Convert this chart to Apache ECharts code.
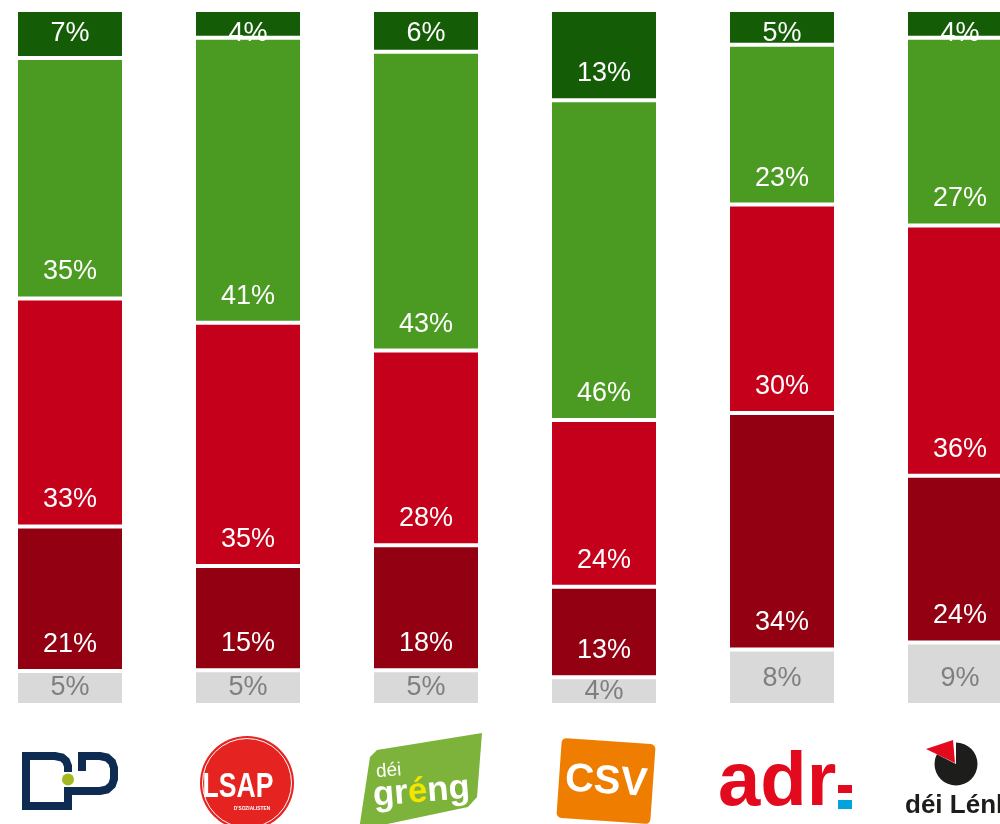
<!DOCTYPE html>
<html>
<head>
<meta charset="utf-8">
<script src="https://cdn.jsdelivr.net/npm/echarts/dist/echarts.min.js"></script>
<style>
  html, body { margin: 0; padding: 0; background: #fff; }
  #chart { width: 1000px; height: 824px; }
</style>
</head>
<body>
<div id="chart"></div>
<script>
// parteien
const parties = ['DP', 'LSAP', 'déi gréng', 'CSV', 'ADR', 'déi Lénk'];

// anteile in %, von unten nach oben gestapelt
const noAnswer = [4.9, 5, 5, 4, 8, 9];
const veryBad = [20.8, 15, 18, 13, 34, 24];
const bad = [32.8, 35, 28, 24, 30, 36];
const good = [34.6, 41, 43, 46, 23, 27];
const veryGood = [6.9, 4, 6, 13, 5, 4];

const FONT = "'Liberation Sans', Arial, sans-serif";

const chart = echarts.init(document.getElementById('chart'));

function baseLabel(color) {
  return {
    show: true,
    position: 'insideBottom',
    distance: 13,
    color: color,
    fontFamily: FONT,
    fontSize: 27,
    lineHeight: 27,
    formatter: (p) => Math.round(p.value) + '%'
  };
}

// kleine segmente: label mittig bzw. oben
function items(values, smallLimit, smallLabel) {
  return values.map((v) => (v < smallLimit ? { value: v, label: smallLabel } : v));
}

function bar(name, values, color, labelColor, smallLimit, smallLabel) {
  return {
    name: name,
    type: 'bar',
    stack: 'total',
    barWidth: 108,
    itemStyle: { color: color, borderColor: '#fff', borderWidth: 2 },
    label: baseLabel(labelColor),
    data: smallLimit ? items(values, smallLimit, smallLabel) : values
  };
}

chart.setOption({
  animation: false,
  grid: { left: -19, right: -49, top: 10, bottom: 119, containLabel: false, outerBoundsMode: 'none' },
  xAxis: { type: 'category', data: parties, show: false },
  yAxis: { type: 'value', min: 0, max: 100, show: false },
  series: [
    bar('Keng Äntwert', noAnswer, '#d9d9d9', '#7f7f7f', 6, { position: 'inside' }),
    bar('Guer net zefridden', veryBad, '#930012', '#fff'),
    bar('Net zefridden', bad, '#c5001b', '#fff'),
    bar('Zefridden', good, '#4b9b22', '#fff'),
    bar('Ganz zefridden', veryGood, '#155c07', '#fff', 10, { position: 'insideTop', distance: 10 })
  ]
});

// logos unter den balken
const navy = '#0e2b52';
const stroke8 = { fill: null, stroke: navy, lineWidth: 8, lineJoin: 'miter' };
const logos = [
  [
    { type: 'polyline', shape: { points: [[-2.5, 806], [-44, 806], [-44, 756], [-15, 756], [-8, 757.5], [-4, 761], [-2, 766], [-2, 772]] }, style: stroke8 },
    { type: 'polyline', shape: { points: [[-2, 810], [-2, 791], [30, 791], [37, 789.5], [42, 785], [44, 779], [44, 773.5], [44, 768], [42, 762], [37, 757.5], [30, 756], [12, 756], [12, 771]] }, style: stroke8 },
    { type: 'circle', shape: { cx: -2, cy: 779.5, r: 6 }, style: { fill: '#a4b820' } }
  ],
  [
    { type: 'circle', shape: { cx: -1, cy: 783, r: 47 }, style: { fill: '#e52421' } },
    { type: 'circle', shape: { cx: -1, cy: 783, r: 44.5 }, style: { fill: null, stroke: '#fff', lineWidth: 1 } },
    { type: 'text', x: -10, y: 787, scaleX: 0.76, style: { text: 'LSAP', textAlign: 'center', textVerticalAlign: 'middle', fill: '#fff', font: 'bold 35px ' + FONT } },
    { type: 'text', x: 4, y: 808, scaleX: 0.8, style: { text: "D'SOZIALISTEN", textAlign: 'center', textVerticalAlign: 'middle', fill: '#fff', font: 'bold 6px ' + FONT } }
  ],
  [
    { type: 'polygon', shape: { points: [[-56, 757], [-49, 750], [56, 733], [51, 797], [42, 807], [-67, 830]] }, style: { fill: '#7db33a' } },
    { type: 'text', x: -50, y: 772, rotation: 0.08, style: { text: 'déi', textVerticalAlign: 'middle', fill: '#fff', font: '19px ' + FONT } },
    {
      type: 'text', x: -53, y: 796, rotation: 0.08,
      style: {
        text: '{w|gr}{y|é}{w|ng}', textVerticalAlign: 'middle',
        rich: {
          w: { fill: '#fff', font: 'bold 35px ' + FONT },
          y: { fill: '#f3e500', font: 'bold 35px ' + FONT }
        }
      }
    }
  ],
  [
    { type: 'rect', x: 2, y: 781, rotation: -0.07, shape: { x: -47, y: -40, width: 94, height: 80, r: 5 }, style: { fill: '#ef7d00' } },
    { type: 'text', x: 2, y: 782, rotation: -0.07, style: { text: 'CSV', textAlign: 'center', textVerticalAlign: 'middle', fill: '#fff', font: 'bold 40px ' + FONT } }
  ],
  [
    { type: 'text', x: -64, y: 784, style: { text: 'adr', textVerticalAlign: 'middle', fill: '#e30a1e', font: 'bold 76px ' + FONT } },
    { type: 'rect', shape: { x: 56, y: 785, width: 14, height: 8 }, style: { fill: '#e30a1e' } },
    { type: 'rect', shape: { x: 56, y: 800, width: 14, height: 9 }, style: { fill: '#00a3dc' } }
  ],
  [
    { type: 'sector', shape: { cx: -4, cy: 764, r0: 0, r: 21.5, startAngle: -Math.PI / 2, endAngle: 207 * Math.PI / 180, clockwise: true }, style: { fill: '#1d1d1b' } },
    { type: 'polygon', shape: { points: [[-34, 749], [-7, 740], [-5, 763]] }, style: { fill: '#e30a1e' } },
    { type: 'text', x: -55, y: 806, style: { text: 'déi Lénk', textVerticalAlign: 'middle', fill: '#1d1d1b', font: 'bold 26px ' + FONT } }
  ]
];

chart.setOption({
  graphic: logos.map((children, i) => ({
    type: 'group',
    x: chart.convertToPixel({ xAxisIndex: 0 }, i),
    y: 0,
    children: children
  }))
});
</script>
</body>
</html>
